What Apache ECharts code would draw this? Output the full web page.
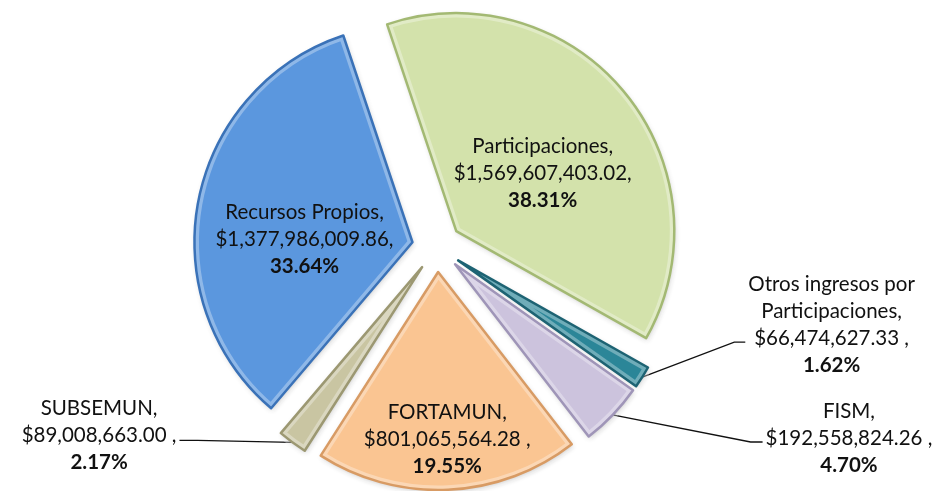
<!DOCTYPE html>
<html>
<head>
<meta charset="utf-8">
<script src="https://cdn.jsdelivr.net/npm/echarts@6/dist/echarts.min.js"></script>
<style>
  html, body { margin: 0; padding: 0; background: #fff; }
  #main { width: 936px; height: 491px; }
</style>
</head>
<body>
<div id="main"></div>
<script>
// fuentes de ingreso, en el orden del pastel (sentido horario)
var categories = ['Participaciones', 'Otros ingresos por Participaciones', 'FISM', 'FORTAMUN', 'SUBSEMUN', 'Recursos Propios'];
var amounts = [1569607403.02, 66474627.33, 192558824.26, 801065564.28, 89008663.00, 1377986009.86];
var percents = ['38.31%', '1.62%', '4.70%', '19.55%', '2.17%', '33.64%'];

var fills   = ['#D3E2AB', '#2B8698', '#CCC3DD', '#FAC592', '#C9C5A2', '#5B97DE'];
var borders = ['#A3B973', '#1D6373', '#9F95B8', '#D89B64', '#9C9872', '#3A72B8'];
var inside  = [true, false, false, true, false, true];

// ajustes de las etiquetas (desplazamientos respecto a la posicion de ECharts)
var insideShift = { 0: [0, 14], 3: [4, 56], 5: [2, 18] };
// codo y final de la linea guia, relativos al punto de inicio sobre la rebanada
var guide = {
  1: { elbow: [92, -35], end: [103, -35], side: 1, dy: -17 },
  2: { elbow: [138, 27], end: [150, 27], side: 1, dy: -4 },
  4: { elbow: [-95, -2], end: [-113, -2], side: -1, dy: -5 }
};

var money = new Intl.NumberFormat('en-US', { minimumFractionDigits: 2, maximumFractionDigits: 2 });

var chartDom = document.getElementById('main');
var myChart = echarts.init(chartDom, null, { renderer: 'canvas' });

// base comun de las tres capas del pastel (relleno, brillo del bisel, contorno)
var pieBase = {
  type: 'pie',
  center: [437, 247],
  radius: 218,
  startAngle: 108.5,
  clockwise: true,
  selectedMode: 'multiple',
  selectedOffset: 25,
  avoidLabelOverlap: false,
  emphasis: { disabled: true }
};

function layer(extra, itemFn) {
  var s = Object.assign({}, pieBase, extra);
  s.data = categories.map(function (name, i) {
    var style = itemFn(i);
    return {
      name: name,
      value: amounts[i],
      selected: true,
      itemStyle: style,
      select: { itemStyle: style },
      label: { position: inside[i] ? 'inside' : 'outside' },
      labelLine: { show: !inside[i] }
    };
  });
  return s;
}

var fillLayer = layer({
  z: 2,
  itemStyle: {
    borderWidth: 0,
    shadowBlur: 5,
    shadowColor: 'rgba(0,0,0,0.3)',
    shadowOffsetX: 1,
    shadowOffsetY: 2
  },
  label: {
    show: true,
    color: '#111',
    fontFamily: 'Lato',
    fontSize: 20.5,
    lineHeight: 27,
    align: 'center',
    formatter: function (p) {
      var i = p.dataIndex;
      var name = categories[i].replace(' por ', ' por\n');
      var sep = inside[i] && i !== 3 ? ',' : ' ,';
      return name + ',\n$' + money.format(amounts[i]) + sep + '\n{b|' + percents[i] + '}';
    },
    rich: {
      b: { fontFamily: 'Lato', fontWeight: 'bold', fontSize: 20.5, lineHeight: 27, color: '#111' }
    }
  },
  labelLine: {
    length: 10,
    length2: 10,
    lineStyle: { color: '#111', width: 1.3 }
  },
  labelLayout: function (params) {
    var i = params.dataIndex;
    if (insideShift[i]) {
      return { dx: insideShift[i][0], dy: insideShift[i][1] };
    }
    var g = guide[i];
    var pts = params.labelLinePoints;
    if (!g || !pts) return {};
    var p0 = pts[0];
    var elbow = [p0[0] + g.elbow[0], p0[1] + g.elbow[1]];
    var end = [p0[0] + g.end[0], p0[1] + g.end[1]];
    var r = params.labelRect;
    var cx = end[0] + g.side * (r.width / 2 + 3);
    var cy = end[1] + g.dy;
    var anchorX = g.side > 0 ? r.x : r.x + r.width;
    return {
      dx: cx - anchorX,
      dy: cy - (r.y + r.height / 2),
      align: 'center',
      labelLinePoints: [p0, elbow, end]
    };
  }
}, function (i) {
  return { color: fills[i] };
});

var glowLayer = layer({
  z: 3, silent: true,
  label: { show: false }, labelLine: { show: false }
}, function (i) {
  return { color: 'rgba(0,0,0,0)', borderColor: 'rgba(255,255,255,0.32)', borderWidth: 9 };
});

var edgeLayer = layer({
  z: 4, silent: true,
  label: { show: false }, labelLine: { show: false }
}, function (i) {
  return { color: 'rgba(0,0,0,0)', borderColor: borders[i], borderWidth: 2.5 };
});

var option = {
  backgroundColor: '#fff',
  animation: false,
  series: [fillLayer, glowLayer, edgeLayer]
};

option && myChart.setOption(option);
</script>
</body>
</html>
